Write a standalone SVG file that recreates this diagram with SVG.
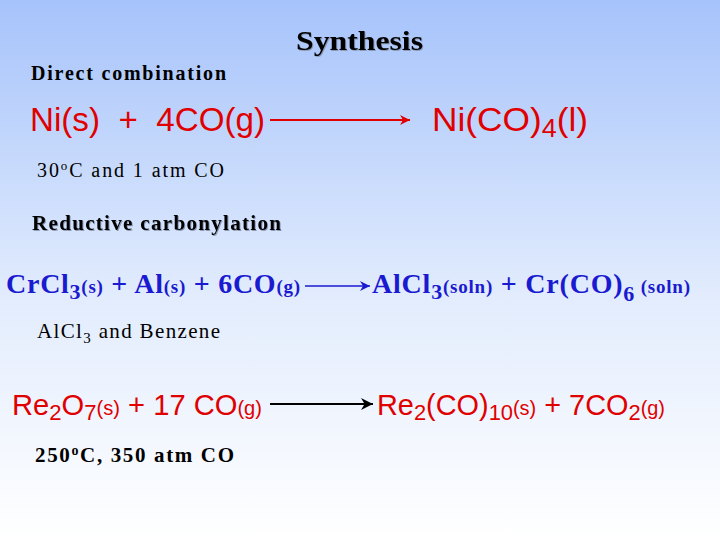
<svg xmlns="http://www.w3.org/2000/svg" width="720" height="540" viewBox="0 0 720 540">
<defs>
<linearGradient id="bg" x1="0" y1="0" x2="0" y2="1"><stop offset="0" stop-color="#a6c3fb"/><stop offset="0.55" stop-color="#e2ecfd"/><stop offset="1" stop-color="#ffffff"/></linearGradient>
<marker id="ab2" viewBox="0 0 10 10" refX="10" refY="5" markerWidth="24" markerHeight="10" orient="auto" markerUnits="userSpaceOnUse"><path d="M0,0 L10,5 L0,10 L3,5 Z" fill="#1a1ad0"/></marker>
<marker id="ar" viewBox="0 0 10 10" refX="10" refY="5" markerWidth="22" markerHeight="10" orient="auto" markerUnits="userSpaceOnUse"><path d="M0,0 L10,5 L0,10 L3,5 Z" fill="#e00000"/></marker>
<marker id="ak" viewBox="0 0 10 10" refX="10" refY="5" markerWidth="22" markerHeight="12" orient="auto" markerUnits="userSpaceOnUse"><path d="M0,0 L10,5 L0,10 L3,5 Z" fill="#000"/></marker>
</defs>
<style>
.ser{font-family:"Liberation Serif",serif;fill:#000}
.b{font-weight:bold}
.sh{fill:#000;filter:drop-shadow(1px 1px 0 #8a9ab8)}
.red{font-family:"Liberation Sans",sans-serif;fill:#e00000}
.blue{font-family:"Liberation Serif",serif;font-weight:bold;fill:#1a1ad0}
</style>
<rect width="720" height="540" fill="url(#bg)"/>
<g id="title"><text x="296" y="50" font-size="27" class="ser b sh" textLength="127" lengthAdjust="spacingAndGlyphs">Synthesis</text></g>
<g id="labels">
<text x="31" y="80" font-size="20" class="ser b" textLength="195">Direct combination</text>
<text x="37" y="177" font-size="20" class="ser" textLength="187">30<tspan font-size="13" dy="-7">o</tspan><tspan dy="7">C and 1 atm CO</tspan></text>
<text x="32" y="230" font-size="21" class="ser b sh" textLength="249">Reductive carbonylation</text>
<text x="37" y="338" font-size="21" class="ser" textLength="183">AlCl<tspan font-size="15" dy="5">3</tspan><tspan dy="-5"> and Benzene</tspan></text>
<text x="35" y="462" font-size="21" class="ser b" textLength="199">250<tspan font-size="14" dy="-7">o</tspan><tspan dy="7">C, 350 atm CO</tspan></text>
</g>
<g id="eq1">
<text x="30" y="131" font-size="34" class="red" xml:space="preserve" textLength="235" lengthAdjust="spacingAndGlyphs">Ni(s)  +  4CO(g)</text>
<text x="432" y="131" font-size="34" class="red" textLength="156" lengthAdjust="spacingAndGlyphs">Ni(CO)<tspan font-size="26" dy="6">4</tspan><tspan dy="-6">(l)</tspan></text>
</g>
<g id="eq2">
<text x="6" y="293" font-size="28" class="blue" textLength="294">CrCl<tspan font-size="22" dy="6">3</tspan><tspan font-size="19" dy="-6">(s)</tspan><tspan> + Al</tspan><tspan font-size="19">(s)</tspan><tspan> + 6CO</tspan><tspan font-size="19">(g)</tspan></text>
<text x="372" y="293" font-size="28" class="blue" textLength="318">AlCl<tspan font-size="22" dy="6">3</tspan><tspan font-size="19" dy="-6">(soln)</tspan><tspan> + Cr(CO)</tspan><tspan font-size="22" dy="8">6</tspan><tspan font-size="19" dy="-8"> (soln)</tspan></text>
</g>
<g id="eq3">
<text x="12" y="415" font-size="29" class="red" textLength="250" lengthAdjust="spacingAndGlyphs">Re<tspan font-size="22" dy="5">2</tspan><tspan dy="-5">O</tspan><tspan font-size="22" dy="5">7</tspan><tspan font-size="20" dy="-5">(s)</tspan><tspan> + 17 CO</tspan><tspan font-size="20">(g)</tspan></text>
<text x="377" y="415" font-size="29" class="red" textLength="288" lengthAdjust="spacingAndGlyphs">Re<tspan font-size="22" dy="5">2</tspan><tspan dy="-5">(CO)</tspan><tspan font-size="22" dy="5">10</tspan><tspan font-size="20" dy="-5">(s)</tspan><tspan> + 7CO</tspan><tspan font-size="22" dy="5">2</tspan><tspan font-size="20" dy="-5">(g)</tspan></text>
</g>
<g id="connectors">
<line x1="270" y1="120" x2="410" y2="120" stroke="#e00000" stroke-width="2" marker-end="url(#ar)"/>
<line x1="305" y1="286" x2="370" y2="286" stroke="#1a1ad0" stroke-width="1.5" marker-end="url(#ab2)"/>
<line x1="270" y1="404" x2="373" y2="404" stroke="#000" stroke-width="2" marker-end="url(#ak)"/>
</g>
</svg>
